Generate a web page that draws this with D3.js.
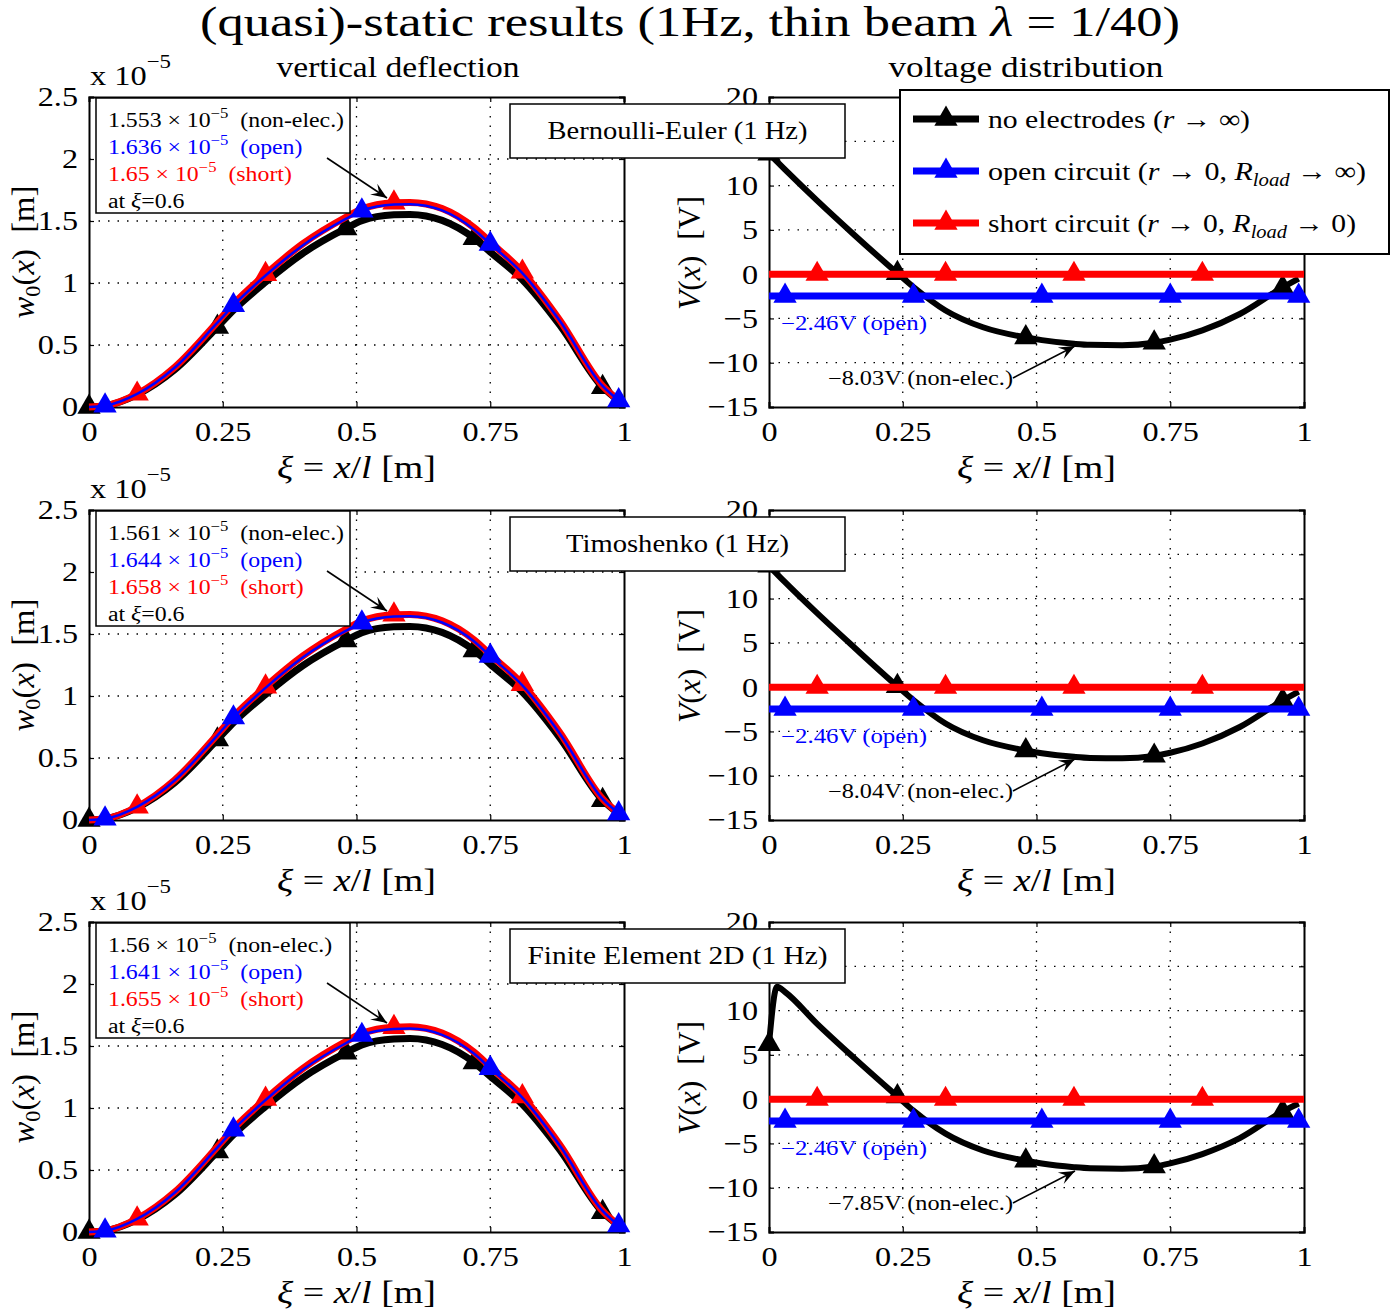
<!DOCTYPE html>
<html>
<head>
<meta charset="utf-8">
<script src="https://cdn.jsdelivr.net/npm/d3@7"></script>
<style>
  body { margin: 0; background: #fff; }
  text { font-family: 'Liberation Serif', 'DejaVu Serif', serif; fill: #000; }
</style>
</head>
<body>
<script>
// ---- data ----
const xiTicks = [0, 0.25, 0.5, 0.75, 1]
const xiTickLabels = ['0', '0.25', '0.5', '0.75', '1']
const deflTicks = [0, 0.5, 1, 1.5, 2, 2.5]
const deflTickLabels = ['0', '0.5', '1', '1.5', '2', '2.5']
const voltTicks = [-15, -10, -5, 0, 5, 10, 15, 20]
// the 15 label sits under the title box in the original, so it is left blank
const voltTickLabels = ['\u221215', '\u221210', '\u22125', '0', '5', '10', '', '20']

const xiGrid = [0, 0.03, 0.09, 0.16, 0.24, 0.27, 0.33, 0.40, 0.48, 0.51, 0.57, 0.60, 0.66, 0.72, 0.75, 0.81, 0.88, 0.96, 0.99]
const xiGridFE = [0, 0.015, 0.03, 0.09, 0.16, 0.24, 0.27, 0.33, 0.40, 0.48, 0.51, 0.57, 0.60, 0.66, 0.72, 0.75, 0.81, 0.88, 0.96, 0.99]
const xiFlat = [0, 0.03, 0.09, 0.27, 0.33, 0.51, 0.57, 0.75, 0.81, 0.99, 1]

// deflection w0 (x 1e-5 m)
const deflBlackBE = [0, 0.01, 0.10, 0.30, 0.645, 0.78, 1.007, 1.24, 1.44, 1.503, 1.55, 1.553, 1.505, 1.36, 1.25, 1.026, 0.66, 0.16, 0.05]
const deflOpenBE  = [0, 0.01, 0.105, 0.316, 0.68, 0.82, 1.06, 1.305, 1.517, 1.583, 1.633, 1.636, 1.585, 1.43, 1.315, 1.08, 0.695, 0.17, 0.053]
const deflShortBE = [0, 0.01, 0.106, 0.32, 0.685, 0.83, 1.07, 1.317, 1.53, 1.597, 1.647, 1.65, 1.60, 1.445, 1.33, 1.09, 0.70, 0.17, 0.053]

const deflBlackTI = [0, 0.01, 0.10, 0.30, 0.648, 0.785, 1.012, 1.246, 1.447, 1.51, 1.558, 1.561, 1.513, 1.367, 1.256, 1.031, 0.663, 0.16, 0.05]
const deflOpenTI  = [0, 0.01, 0.106, 0.318, 0.683, 0.826, 1.066, 1.312, 1.525, 1.591, 1.641, 1.644, 1.593, 1.44, 1.322, 1.086, 0.698, 0.17, 0.053]
const deflShortTI = [0, 0.01, 0.107, 0.322, 0.689, 0.834, 1.075, 1.323, 1.538, 1.605, 1.655, 1.658, 1.607, 1.452, 1.334, 1.095, 0.705, 0.17, 0.053]

const deflBlackFE = [0, 0.01, 0.10, 0.30, 0.648, 0.784, 1.011, 1.245, 1.446, 1.509, 1.557, 1.56, 1.512, 1.366, 1.255, 1.03, 0.663, 0.16, 0.05]
const deflOpenFE  = [0, 0.01, 0.106, 0.317, 0.682, 0.825, 1.064, 1.31, 1.522, 1.588, 1.638, 1.641, 1.59, 1.437, 1.32, 1.084, 0.697, 0.17, 0.053]
const deflShortFE = [0, 0.01, 0.107, 0.321, 0.687, 0.832, 1.072, 1.32, 1.535, 1.602, 1.652, 1.655, 1.604, 1.449, 1.331, 1.093, 0.703, 0.17, 0.053]

// voltage V (V)
const voltBlackBE = [13.6, 11.8, 8.3, 4.4, 0.1, -1.45, -4.1, -6.0, -7.15, -7.45, -7.86, -7.98, -8.03, -7.75, -7.4, -6.35, -4.5, -1.5, -0.5]
const voltBlackTI = [13.7, 11.85, 8.35, 4.45, 0.1, -1.45, -4.1, -6.0, -7.15, -7.46, -7.87, -7.99, -8.04, -7.76, -7.41, -6.36, -4.5, -1.5, -0.5]
const voltBlackFE = [6.2, 12.7, 12.1, 8.5, 4.6, 0.3, -1.3, -3.9, -5.8, -6.95, -7.27, -7.68, -7.8, -7.85, -7.6, -7.25, -6.2, -4.4, -1.4, -0.5]
const voltOpen  = [-2.46, -2.46, -2.46, -2.46, -2.46, -2.46, -2.46, -2.46, -2.46, -2.46, -2.46]
const voltShort = [0, 0, 0, 0, 0, 0, 0, 0, 0, 0, 0]

const blackMarkXi = [0, 0.24, 0.48, 0.72, 0.96]
const openMarkXi  = [0.03, 0.27, 0.51, 0.75, 0.99]
const shortMarkXi = [0.09, 0.33, 0.57, 0.81]

const rowNames = ['Bernoulli-Euler (1 Hz)', 'Timoshenko (1 Hz)', 'Finite Element 2D (1 Hz)']
const rowNameWidths = [260, 223, 300]
const maxBlack = ['1.553', '1.561', '1.56']
const maxOpen  = ['1.636', '1.644', '1.641']
const maxShort = ['1.65', '1.658', '1.655']
const minVolt  = ['\u22128.03', '\u22128.04', '\u22127.85']
const openVolt = '\u22122.46'

const legendLabels = ['no electrodes', 'open circuit', 'short circuit']
const legendWidths = [262, 378, 368]
const seriesColors = ['#000000', '#0000ff', '#ff0000']

// ---- layout ----
const W = 1391, H = 1310
const rowTops = [97, 510, 922]
const plotH = 310
const leftX = [89, 624], rightX = [769, 1304]

const svg = d3.select('body').append('svg').attr('width', W).attr('height', H)

const rowsDefl = [
  [deflBlackBE, deflOpenBE, deflShortBE],
  [deflBlackTI, deflOpenTI, deflShortTI],
  [deflBlackFE, deflOpenFE, deflShortFE]
]
const rowsVolt = [
  [xiGrid, voltBlackBE],
  [xiGrid, voltBlackTI],
  [xiGridFE, voltBlackFE]
]

// the original font (Computer Modern, figure squeezed) is wider than Times, so stretch
function stretch(sel, k){
  sel.each(function(){
    const L = this.getComputedTextLength()
    this.setAttribute('textLength', L * k)
    this.setAttribute('lengthAdjust', 'spacingAndGlyphs')
  })
}
function fitTo(sel, w){
  sel.attr('textLength', w).attr('lengthAdjust', 'spacingAndGlyphs')
}

function tri(g, x, y, color){
  g.append('path')
    .attr('d', d3.symbol().type(d3.symbolTriangle).size(235)())
    .attr('transform', `translate(${x},${y})`)
    .attr('fill', color)
}

function arrow(g, x1, y1, x2, y2){
  g.append('line').attr('x1', x1).attr('y1', y1).attr('x2', x2).attr('y2', y2)
    .attr('stroke', '#000').attr('stroke-width', 1.6)
  let a = Math.atan2(y2 - y1, x2 - x1)
  let L = 16, Wd = 6.5
  let bx = x2 - L * Math.cos(a), by = y2 - L * Math.sin(a)
  let nx = -Math.sin(a), ny = Math.cos(a)
  let mx = x2 - L * 0.6 * Math.cos(a), my = y2 - L * 0.6 * Math.sin(a)
  g.append('path')
    .attr('d', `M${x2},${y2}L${bx + nx * Wd},${by + ny * Wd}L${mx},${my}L${bx - nx * Wd},${by - ny * Wd}Z`)
    .attr('fill', '#000')
}

function axesFrame(g, x, y, yTicks, yLabels){
  // dotted grid
  xiTicks.slice(1, -1).forEach(t => {
    g.append('line').attr('x1', x(t)).attr('x2', x(t)).attr('y1', y.range()[1]).attr('y2', y.range()[0])
      .attr('stroke', '#000').attr('stroke-width', 1.3).attr('stroke-dasharray', '1.5,8')
  })
  yTicks.slice(1, -1).forEach(t => {
    g.append('line').attr('x1', x.range()[0]).attr('x2', x.range()[1]).attr('y1', y(t)).attr('y2', y(t))
      .attr('stroke', '#000').attr('stroke-width', 1.3).attr('stroke-dasharray', '1.5,8')
  })
  g.append('g').attr('transform', `translate(0,${y.range()[0]})`)
    .call(d3.axisBottom(x).tickValues(xiTicks).tickSize(-5).tickPadding(14).tickFormat((d, i) => xiTickLabels[i]))
  g.append('g').attr('transform', `translate(0,${y.range()[1]})`)
    .call(d3.axisTop(x).tickValues(xiTicks).tickSize(-5).tickFormat(''))
  g.append('g').attr('transform', `translate(${x.range()[0]},0)`)
    .call(d3.axisLeft(y).tickValues(yTicks).tickSize(-5).tickPadding(11).tickFormat((d, i) => yLabels[i]))
  g.append('g').attr('transform', `translate(${x.range()[1]},0)`)
    .call(d3.axisRight(y).tickValues(yTicks).tickSize(-5).tickFormat(''))
  g.selectAll('.domain').attr('stroke', '#000').attr('stroke-width', 2)
  g.selectAll('.tick line').attr('stroke', '#000').attr('stroke-width', 1.2)
  const tt = g.selectAll('.tick text').attr('font-size', 28).attr('font-family', "'Liberation Serif', serif").attr('fill', '#000')
  stretch(tt.filter(function(){ return this.textContent !== '' }), 1.15)
}

function xTitle(g, cx, by){
  let t = g.append('text').attr('x', cx).attr('y', by).attr('text-anchor', 'middle').attr('font-size', 31)
  t.append('tspan').attr('font-style', 'italic').text('\u03be')
  t.append('tspan').text(' = ')
  t.append('tspan').attr('font-style', 'italic').text('x')
  t.append('tspan').text('/')
  t.append('tspan').attr('font-style', 'italic').text('l')
  t.append('tspan').text(' [m]')
  fitTo(t, 159)
}

rowTops.forEach((T, r) => {
  const g = svg.append('g')
  const xL = d3.scaleLinear().domain([0, 1]).range(leftX)
  const yL = d3.scaleLinear().domain([0, 2.5]).range([T + plotH, T])
  const xR = d3.scaleLinear().domain([0, 1]).range(rightX)
  const yR = d3.scaleLinear().domain([-15, 20]).range([T + plotH, T])

  // ---------- left: deflection ----------
  const gl = g.append('g')
  axesFrame(gl, xL, yL, deflTicks, deflTickLabels)
  const lineL = d3.line().x(d => xL(d[0])).y(d => yL(d[1])).curve(d3.curveMonotoneX)
  const [db, dop, dsh] = rowsDefl[r]
  const orderL = [[db, 0, blackMarkXi], [dsh, 2, shortMarkXi], [dop, 1, openMarkXi]]
  orderL.forEach(([vals, c, marks]) => {
    const pts = xiGrid.map((xi, i) => [xi, vals[i]])
    gl.append('path').attr('d', lineL(pts)).attr('fill', 'none')
      .attr('stroke', seriesColors[c]).attr('stroke-width', c === 1 ? 2.5 : 7).attr('stroke-linejoin', 'round')
    pts.filter(p => marks.includes(p[0])).forEach(p => tri(gl, xL(p[0]), yL(p[1]), seriesColors[c]))
  })
  xTitle(gl, (leftX[0] + leftX[1]) / 2, T + 381)
  const ytl = gl.append('text').attr('transform', `translate(34,${T + 155}) rotate(-90)`)
    .attr('text-anchor', 'middle').attr('font-size', 31)
  ytl.append('tspan').attr('font-style', 'italic').text('w')
  ytl.append('tspan').attr('font-size', 21).attr('dy', 6).text('0')
  ytl.append('tspan').attr('dy', -6).text('(')
  ytl.append('tspan').attr('font-style', 'italic').text('x')
  ytl.append('tspan').text(')\u00a0\u00a0[m]')
  fitTo(ytl, 133)
  const sc = gl.append('text').attr('x', 90).attr('y', T - 12).attr('font-size', 27)
  sc.append('tspan').text('x 10')
  sc.append('tspan').attr('font-size', 19).attr('dy', -17).text('\u22125')
  stretch(sc, 1.2)

  // ---------- right: voltage ----------
  const gr = g.append('g')
  axesFrame(gr, xR, yR, voltTicks, voltTickLabels)
  const lineR = d3.line().x(d => xR(d[0])).y(d => yR(d[1])).curve(d3.curveMonotoneX)
  const [vxi, vb] = rowsVolt[r]
  const blackPts = vxi.map((xi, i) => [xi, vb[i]])
  gr.append('path').attr('d', lineR(blackPts)).attr('fill', 'none')
    .attr('stroke', '#000').attr('stroke-width', 6).attr('stroke-linejoin', 'round')
  blackPts.filter(p => blackMarkXi.includes(p[0])).forEach(p => tri(gr, xR(p[0]), yR(p[1]), '#000'))
  ;[[voltShort, 2, shortMarkXi], [voltOpen, 1, openMarkXi]].forEach(([vals, c, marks]) => {
    const pts = xiFlat.map((xi, i) => [xi, vals[i]])
    gr.append('path').attr('d', lineR(pts)).attr('fill', 'none')
      .attr('stroke', seriesColors[c]).attr('stroke-width', 7)
    pts.filter(p => marks.includes(p[0])).forEach(p => tri(gr, xR(p[0]), yR(p[1]), seriesColors[c]))
  })
  xTitle(gr, (rightX[0] + rightX[1]) / 2, T + 381)
  const ytr = gr.append('text').attr('transform', `translate(700,${T + 156}) rotate(-90)`)
    .attr('text-anchor', 'middle').attr('font-size', 31)
  ytr.append('tspan').attr('font-style', 'italic').text('V')
  ytr.append('tspan').text('(')
  ytr.append('tspan').attr('font-style', 'italic').text('x')
  ytr.append('tspan').text(')\u00a0\u00a0[V]')
  fitTo(ytr, 114)

  const ao = gr.append('text').attr('x', 781).attr('y', T + 233).attr('font-size', 20)
    .style('fill', '#0000ff').text(openVolt + 'V (open)')
  fitTo(ao, 146)
  const an = gr.append('text').attr('x', 828).attr('y', T + 288).attr('font-size', 20)
    .text(minVolt[r] + 'V (non-elec.)')
  fitTo(an, 185)
  arrow(gr, 1013, T + 281, 1075, T + 249)

  // ---------- overlay boxes ----------
  const ann = g.append('g')
  ann.append('rect').attr('x', 96).attr('y', T + 1).attr('width', 254).attr('height', 115)
    .attr('fill', '#fff').attr('stroke', '#000').attr('stroke-width', 1.5)
  const annLines = [[maxBlack[r], '(non-elec.)', '#000'], [maxOpen[r], '(open)', '#0000ff'], [maxShort[r], '(short)', '#ff0000']]
  annLines.forEach(([v, lab, col], i) => {
    const t = ann.append('text').attr('x', 108).attr('y', T + 30 + i * 27).attr('font-size', 20).style('fill', col)
    t.append('tspan').text(v + ' \u00d7 10')
    t.append('tspan').attr('font-size', 14).attr('dy', -9).text('\u22125')
    t.append('tspan').attr('dy', 9).text('\u00a0\u00a0' + lab)
    stretch(t, 1.19)
  })
  const at = ann.append('text').attr('x', 108).attr('y', T + 111).attr('font-size', 20)
  at.append('tspan').text('at ')
  at.append('tspan').attr('font-style', 'italic').text('\u03be')
  at.append('tspan').text('=0.6')
  stretch(at, 1.19)
  arrow(ann, 327, T + 61, 387, T + 101)

  ann.append('rect').attr('x', 510).attr('y', T + 7).attr('width', 335).attr('height', 54)
    .attr('fill', '#fff').attr('stroke', '#000').attr('stroke-width', 1.5)
  const bt = ann.append('text').attr('x', 677.5).attr('y', T + 42).attr('text-anchor', 'middle').attr('font-size', 26)
    .text(rowNames[r])
  fitTo(bt, rowNameWidths[r])
})

// column titles
fitTo(svg.append('text').attr('x', 398).attr('y', 77).attr('text-anchor', 'middle').attr('font-size', 29).text('vertical deflection'), 243)
fitTo(svg.append('text').attr('x', 1026).attr('y', 77).attr('text-anchor', 'middle').attr('font-size', 29).text('voltage distribution'), 275)

// main title
const mt = svg.append('text').attr('x', 690).attr('y', 36).attr('text-anchor', 'middle').attr('font-size', 42)
mt.append('tspan').text('(quasi)-static results (1Hz, thin beam ')
mt.append('tspan').attr('font-style', 'italic').text('\u03bb')
mt.append('tspan').text(' = 1/40)')
fitTo(mt, 980)

// legend
const lg = svg.append('g')
lg.append('rect').attr('x', 900).attr('y', 90).attr('width', 489).attr('height', 164)
  .attr('fill', '#fff').attr('stroke', '#000').attr('stroke-width', 2)
legendLabels.forEach((lab, i) => {
  const y = 119 + i * 52
  lg.append('line').attr('x1', 913).attr('x2', 979).attr('y1', y).attr('y2', y)
    .attr('stroke', seriesColors[i]).attr('stroke-width', 7)
  tri(lg, 946, y, seriesColors[i])
  const t = lg.append('text').attr('x', 988).attr('y', y + 9).attr('font-size', 26)
  t.append('tspan').text(lab + ' (')
  t.append('tspan').attr('font-style', 'italic').text('r')
  if (i === 0) {
    t.append('tspan').text(' \u2192 \u221e)')
  } else {
    t.append('tspan').text(' \u2192 0, ')
    t.append('tspan').attr('font-style', 'italic').text('R')
    t.append('tspan').attr('font-style', 'italic').attr('font-size', 18).attr('dy', 6).text('load')
    t.append('tspan').attr('dy', -6).text(i === 1 ? ' \u2192 \u221e)' : ' \u2192 0)')
  }
  fitTo(t, legendWidths[i])
})
</script>
</body>
</html>
